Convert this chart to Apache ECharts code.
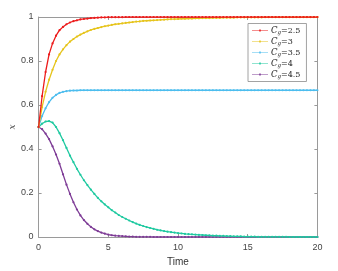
<!DOCTYPE html>
<html><head><meta charset="utf-8">
<script src="https://cdn.jsdelivr.net/npm/echarts@6/dist/echarts.min.js"></script>
<style>html,body{margin:0;padding:0;background:#fff}#c{width:338px;height:271px}</style>
</head><body><div id="c"></div>
<script>
var times = [0,0.25,0.5,0.75,1,1.25,1.5,1.75,2,2.25,2.5,2.75,3,3.25,3.5,3.75,4,4.25,4.5,4.75,5,5.25,5.5,5.75,6,6.25,6.5,6.75,7,7.25,7.5,7.75,8,8.25,8.5,8.75,9,9.25,9.5,9.75,10,10.25,10.5,10.75,11,11.25,11.5,11.75,12,12.25,12.5,12.75,13,13.25,13.5,13.75,14,14.25,14.5,14.75,15,15.25,15.5,15.75,16,16.25,16.5,16.75,17,17.25,17.5,17.75,18,18.25,18.5,18.75,19,19.25,19.5,19.75,20];
var seriesNames = ["2.5","3","3.5","4","4.5"];
var cs25 = [0.5,0.64,0.75,0.83,0.88,0.915,0.94,0.955,0.967,0.975,0.981,0.985,0.989,0.991,0.993,0.995,0.996,0.997,0.998,0.998,0.999,0.999,0.999,0.999,0.999,1,1,1,1,1,1,1,1,1,1,1,1,1,1,1,1,1,1,1,1,1,1,1,1,1,1,1,1,1,1,1,1,1,1,1,1,1,1,1,1,1,1,1,1,1,1,1,1,1,1,1,1,1,1,1,1];
var cs3 = [0.5,0.59,0.66,0.715,0.76,0.8,0.83,0.853,0.872,0.888,0.9,0.911,0.92,0.928,0.935,0.941,0.946,0.95,0.954,0.958,0.961,0.964,0.967,0.969,0.971,0.973,0.975,0.977,0.979,0.98,0.982,0.983,0.984,0.985,0.986,0.987,0.988,0.989,0.99,0.99,0.991,0.992,0.992,0.993,0.993,0.994,0.994,0.995,0.995,0.995,0.996,0.996,0.996,0.997,0.997,0.997,0.997,0.998,0.998,0.998,0.998,0.998,0.998,0.998,0.998,0.999,0.999,0.999,0.999,0.999,0.999,0.999,0.999,0.999,0.999,0.999,0.999,0.999,0.999,0.999,0.999];
var cs35 = [0.5,0.55,0.585,0.613,0.633,0.646,0.655,0.66,0.663,0.665,0.666,0.666,0.667,0.667,0.667,0.667,0.667,0.667,0.667,0.667,0.667,0.667,0.667,0.667,0.667,0.667,0.667,0.667,0.667,0.667,0.667,0.667,0.667,0.667,0.667,0.667,0.667,0.667,0.667,0.667,0.667,0.667,0.667,0.667,0.667,0.667,0.667,0.667,0.667,0.667,0.667,0.667,0.667,0.667,0.667,0.667,0.667,0.667,0.667,0.667,0.667,0.667,0.667,0.667,0.667,0.667,0.667,0.667,0.667,0.667,0.667,0.667,0.667,0.667,0.667,0.667,0.667,0.667,0.667,0.667,0.667];
var cs4 = [0.5,0.515,0.525,0.527,0.52,0.5,0.472,0.44,0.405,0.37,0.34,0.31,0.283,0.258,0.236,0.215,0.196,0.178,0.162,0.148,0.135,0.122,0.111,0.1,0.091,0.083,0.075,0.068,0.061,0.055,0.05,0.045,0.041,0.037,0.033,0.03,0.027,0.024,0.022,0.02,0.018,0.016,0.014,0.013,0.012,0.011,0.01,0.009,0.008,0.007,0.006,0.006,0.005,0.005,0.004,0.004,0.003,0.003,0.003,0.002,0.002,0.002,0.002,0.001,0.001,0.001,0.001,0.001,0.001,0.001,0.001,0.001,0,0,0,0,0,0,0,0,0];
var cs45 = [0.5,0.49,0.47,0.445,0.412,0.375,0.333,0.285,0.238,0.196,0.158,0.125,0.098,0.077,0.06,0.046,0.035,0.027,0.02,0.015,0.011,0.008,0.006,0.005,0.004,0.003,0.002,0.002,0.001,0.001,0.001,0.001,0.001,0,0,0,0,0,0,0,0,0,0,0,0,0,0,0,0,0,0,0,0,0,0,0,0,0,0,0,0,0,0,0,0,0,0,0,0,0,0,0,0,0,0,0,0,0,0,0,0];
var xTicks = [0,5,10,15,20];
var yTicks = [0,0.2,0.4,0.6,0.8,1];

var colors = ["#ec1c1c","#e6c41c","#4dbdee","#1fc9a0","#7e3c96"];
var allData = [cs25,cs3,cs35,cs4,cs45];
var legendIcon = 'path://M0,4.5L32,4.5L32,5.5L0,5.5Z M14.5,3L17.5,3L17.5,7L14.5,7Z';
function pairs(v){ return times.map(function(t,i){return [t,v[i]];}); }
var series = allData.map(function(v,k){
  return {name: seriesNames[k], type:'line', data: pairs(v), xAxisIndex:0, yAxisIndex:0,
    symbol:'circle', symbolSize: 2.2, showSymbol:true, legendIcon: legendIcon,
    lineStyle:{color:colors[k], width:1.3}, itemStyle:{color:colors[k]},
    emphasis:{disabled:true}, animation:false, z: 10 - k};
});
var chart = echarts.init(document.getElementById('c'), null, {renderer:'canvas'});
var lblFont = 'Liberation Sans, Arial, sans-serif';
var axisCol = '#9a9a9a';
chart.setOption({
  animation:false,
  backgroundColor:'#fff',
  grid:{left:38.6, right:20.6, top:17, bottom:34, show:false, containLabel:false, outerBoundsMode:'none'},
  legend:{
    orient:'vertical', left:248, top:23.5, width:63,
    backgroundColor:'#fff', borderColor:'#8c8c8c', borderWidth:0.8, borderRadius:0,
    padding:[2,6,2,4], itemWidth:16, itemHeight:6, itemGap:1,
    data: seriesNames.map(function(n){return {name:n, icon: legendIcon};}),
    formatter: function(n){ return '{c|C}{s|g}{v|=' + n + '}'; },
    textStyle:{ padding:[0,0,0,-2], lineHeight:7,
      rich:{
        c:{fontFamily:'DejaVu Serif, serif', fontStyle:'italic', fontSize:8.5, color:'#222', lineHeight:7},
        s:{fontFamily:'DejaVu Serif, serif', fontStyle:'italic', fontSize:5.5, color:'#222', lineHeight:7, padding:[4,0,0,0]},
        v:{fontFamily:'DejaVu Serif, serif', fontSize:8, color:'#222', lineHeight:7}
      }}
  },
  xAxis:[{
    type:'value', min:0, max:20, interval:5, position:'bottom',
    name:'Time', nameLocation:'middle', nameGap:18,
    nameTextStyle:{fontFamily:lblFont, fontSize:10, color:'#333'},
    axisLine:{show:true, onZero:false, lineStyle:{color:axisCol, width:1}},
    axisTick:{show:true, inside:true, length:3, lineStyle:{color:axisCol}},
    axisLabel:{fontFamily:lblFont, fontSize:9, color:'#444', margin:6,
      formatter:function(v){return xTicks.indexOf(v)>=0? String(v):'';}},
    splitLine:{show:false}
  },{
    type:'value', min:0, max:20, interval:5, position:'top',
    axisLine:{show:true, onZero:false, lineStyle:{color:axisCol, width:1}},
    axisTick:{show:true, inside:true, length:3, lineStyle:{color:axisCol}},
    axisLabel:{show:false}, splitLine:{show:false}
  }],
  yAxis:[{
    type:'value', min:0, max:1, interval:0.2, position:'left',
    name:'x', nameLocation:'middle', nameGap:21, nameRotate:90, nameMoveOverlap:false,
    nameTextStyle:{fontFamily:'DejaVu Serif, serif', fontStyle:'italic', fontSize:9, color:'#555'},
    axisLine:{show:true, onZero:false, lineStyle:{color:axisCol, width:1}},
    axisTick:{show:true, inside:true, length:3, lineStyle:{color:axisCol}},
    axisLabel:{fontFamily:lblFont, fontSize:9, color:'#444', margin:5,
      formatter:function(v){ var r=Math.round(v*10)/10; return yTicks.indexOf(r)>=0 ? String(r) : '';}},
    splitLine:{show:false}
  },{
    type:'value', min:0, max:1, interval:0.2, position:'right',
    axisLine:{show:true, onZero:false, lineStyle:{color:axisCol, width:1}},
    axisTick:{show:true, inside:true, length:3, lineStyle:{color:axisCol}},
    axisLabel:{show:false}, splitLine:{show:false}
  }],
  series: series
});
</script></body></html>
